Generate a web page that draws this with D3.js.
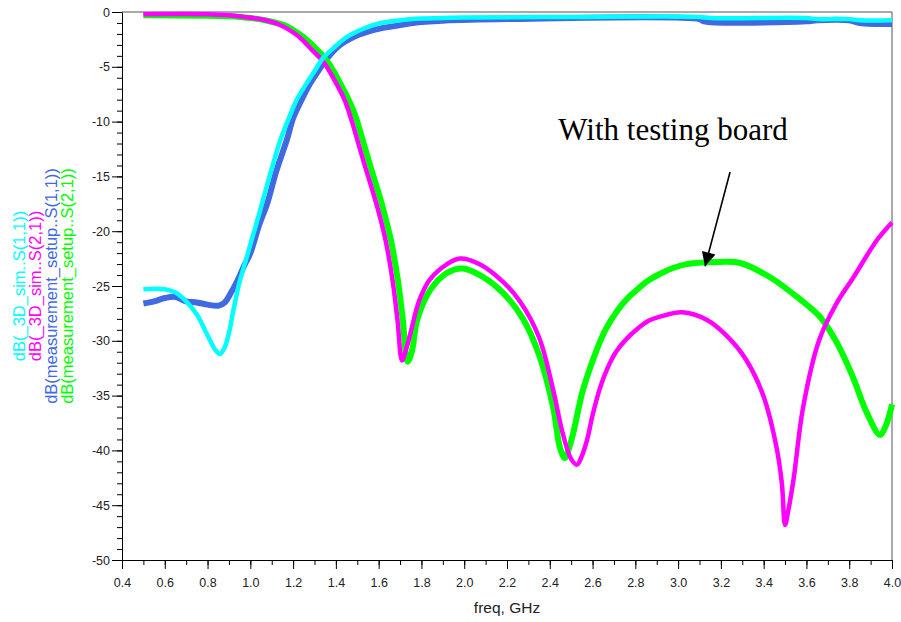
<!DOCTYPE html>
<html>
<head>
<meta charset="utf-8">
<script src="https://cdn.jsdelivr.net/npm/d3@7"></script>
<style>
body { margin: 0; background: #fff; }
</style>
</head>
<body>
<div id="chart"></div>
<script>
var w = 901;
var h = 622;
var sans = "Arial, 'Liberation Sans', sans-serif";

// series (freq in GHz, level in dB)
var simS11Freq = [0.5, 0.6, 0.65, 0.70, 0.75, 0.80, 0.835, 0.858, 0.88, 0.90, 0.92, 0.95, 0.98, 1.00, 1.03, 1.06, 1.10, 1.14, 1.18, 1.22, 1.26, 1.30, 1.34, 1.40, 1.45, 1.52, 1.60, 1.70, 1.80, 2.0, 2.5, 3.1, 3.15, 3.6, 3.65, 3.8, 3.85, 4.0];
var simS11dB   = [-25.3, -25.3, -25.6, -26.4, -27.6, -29.5, -30.8, -31.2, -30.6, -29.3, -27.3, -24.6, -22.6, -21.2, -19.2, -17.1, -14.3, -11.7, -9.7, -7.9, -6.6, -5.4, -4.2, -3.1, -2.3, -1.6, -1.05, -0.75, -0.6, -0.5, -0.45, -0.45, -0.55, -0.55, -0.65, -0.65, -0.75, -0.75];

var simS21Freq = [0.5, 0.8, 0.9, 0.97, 1.03, 1.08, 1.13, 1.17, 1.23, 1.29, 1.34, 1.39, 1.44, 1.475, 1.505, 1.535, 1.565, 1.595, 1.632, 1.665, 1.688, 1.709, 1.725, 1.75, 1.79, 1.84, 1.92, 1.98, 2.07, 2.18, 2.26, 2.35, 2.415, 2.46, 2.50, 2.527, 2.55, 2.575, 2.60, 2.635, 2.67, 2.71, 2.76, 2.81, 2.86, 2.915, 3.02, 3.135, 3.23, 3.32, 3.40, 3.46, 3.485, 3.50, 3.515, 3.54, 3.585, 3.66, 3.74, 3.82, 3.93, 4.0];
var simS21dB   = [-0.2, -0.2, -0.3, -0.45, -0.6, -0.8, -1.1, -1.5, -2.3, -3.5, -4.5, -6.1, -8.0, -10.0, -12.0, -14.0, -15.9, -17.9, -20.8, -24.5, -28.1, -31.8, -31.0, -29.2, -26.3, -24.4, -23.0, -22.5, -23.0, -24.6, -26.4, -29.7, -34.4, -38.4, -40.8, -41.3, -40.5, -39.0, -36.8, -34.3, -32.5, -31.0, -29.8, -28.9, -28.2, -27.8, -27.4, -28.1, -29.6, -31.8, -35.1, -39.7, -43.0, -46.8, -45.5, -42.6, -36.0, -29.9, -26.6, -24.2, -20.8, -19.2];

var measS11Freq = [0.5, 0.55, 0.6, 0.65, 0.70, 0.75, 0.80, 0.85, 0.88, 0.91, 0.94, 0.97, 1.00, 1.04, 1.08, 1.12, 1.17, 1.20, 1.24, 1.28, 1.31, 1.36, 1.42, 1.48, 1.55, 1.61, 1.70, 1.76, 1.90, 2.2, 3.1, 3.12, 3.6, 3.65, 3.8, 3.85, 4.0];
var measS11dB   = [-26.6, -26.4, -26.1, -26.0, -26.4, -26.5, -26.7, -26.8, -26.5, -25.6, -24.5, -23.2, -22.0, -19.5, -17.4, -14.6, -11.7, -9.7, -8.0, -6.5, -5.6, -4.2, -3.0, -2.3, -1.8, -1.5, -1.2, -1.0, -0.8, -0.65, -0.65, -0.85, -0.85, -0.75, -0.75, -1.0, -1.1];

var measS21Freq = [0.5, 0.8, 0.95, 1.00, 1.08, 1.17, 1.22, 1.265, 1.31, 1.36, 1.42, 1.48, 1.50, 1.53, 1.56, 1.59, 1.62, 1.657, 1.69, 1.713, 1.735, 1.755, 1.78, 1.84, 1.92, 1.994, 2.09, 2.18, 2.275, 2.35, 2.415, 2.447, 2.47, 2.49, 2.51, 2.555, 2.62, 2.66, 2.714, 2.76, 2.81, 2.86, 2.915, 2.97, 3.04, 3.195, 3.29, 3.43, 3.556, 3.663, 3.743, 3.817, 3.883, 3.944, 3.97, 3.99, 4.0];
var measS21dB   = [-0.3, -0.35, -0.45, -0.55, -0.8, -1.3, -1.9, -2.55, -3.4, -4.5, -6.5, -8.9, -10.0, -12.0, -14.0, -15.9, -17.9, -20.8, -24.5, -28.1, -31.9, -31.0, -28.1, -25.4, -23.8, -23.4, -24.2, -25.6, -28.0, -31.3, -36.0, -39.7, -40.7, -39.8, -38.4, -34.5, -30.8, -29.0, -27.3, -26.2, -25.3, -24.5, -23.9, -23.4, -23.0, -22.8, -22.9, -24.2, -26.0, -27.8, -30.2, -33.3, -36.6, -38.6, -37.8, -36.6, -35.8];

var seriesNames = ["dB(_3D_sim..S(1,1))", "dB(_3D_sim..S(2,1))", "dB(measurement_setup..S(1,1))", "dB(measurement_setup..S(2,1))"];

var xTicks = d3.range(0.4, 4.0001, 0.2);
var xMinorTicks = d3.range(0.4, 4.0001, 0.1);
var yTicks = d3.range(-50, 0.5, 5);
var yMinorTicks = d3.range(-50, 0.5, 1);

var noteText = "With testing board";
var notePos = [2.44, -11.7];
var arrowFrom = [3.243, -14.6];
var arrowTo = [3.126, -23.2];

var svg = d3.select("#chart")
            .append("svg")
            .attr("width", w)
            .attr("height", h);

var x = d3.scaleLinear().domain([0.4, 4.0]).range([122, 892]);
var y = d3.scaleLinear().domain([-50, 0]).range([560, 12]);

// frame (top and right)
svg.append("path")
    .attr("d", "M" + x(0.4) + "," + y(0) + "H" + x(4.0) + "V" + y(-50))
    .attr("fill", "none")
    .attr("stroke", "#555")
    .attr("stroke-width", 1);

// minor ticks
svg.append("g")
    .attr("transform", "translate(0," + y(-50) + ")")
    .call(d3.axisBottom(x).tickValues(xMinorTicks).tickSize(5).tickFormat(""))
    .call(function(g) { g.select(".domain").remove(); });

svg.append("g")
    .attr("transform", "translate(" + x(0.4) + ",0)")
    .call(d3.axisLeft(y).tickValues(yMinorTicks).tickSize(5).tickFormat(""))
    .call(function(g) { g.select(".domain").remove(); });

// major ticks + labels
svg.append("g")
    .attr("transform", "translate(0," + y(-50) + ")")
    .call(d3.axisBottom(x).tickValues(xTicks).tickSize(9).tickPadding(9).tickSizeOuter(0)
        .tickFormat(function(d) { return d.toFixed(1); }));

svg.append("g")
    .attr("transform", "translate(" + x(0.4) + ",0)")
    .call(d3.axisLeft(y).tickValues(yTicks).tickSize(10).tickPadding(2).tickSizeOuter(0)
        .tickFormat(function(d) { return String(d); }));

svg.selectAll(".tick text")
    .attr("font-size", 12.5)
    .attr("font-family", sans)
    .attr("fill", "#222");

svg.append("text")
    .attr("x", (x(0.4) + x(4.0)) / 2)
    .attr("y", 613)
    .attr("text-anchor", "middle")
    .attr("font-family", sans)
    .attr("font-size", 15.5)
    .attr("fill", "#222")
    .text("freq, GHz");

// curves
var line = d3.line()
    .x(function(d) { return x(d[0]); })
    .y(function(d) { return y(d[1]); })
    .curve(d3.curveCatmullRom.alpha(0.5));

var curves = [
    {f: measS11Freq, v: measS11dB, color: "#4169e1", width: 6},
    {f: measS21Freq, v: measS21dB, color: "#00ff00", width: 6},
    {f: simS21Freq, v: simS21dB, color: "#ff00ff", width: 4.5},
    {f: simS11Freq, v: simS11dB, color: "#00ffff", width: 4.5}
];

svg.selectAll("path.curve")
    .data(curves)
    .enter()
    .append("path")
    .attr("class", "curve")
    .attr("fill", "none")
    .attr("stroke", function(d) { return d.color; })
    .attr("stroke-width", function(d) { return d.width; })
    .attr("stroke-linejoin", "round")
    .attr("d", function(d) {
        return line(d.f.map(function(f, i) { return [f, d.v[i]]; }));
    });

// rotated legend on the left
var legendColors = ["#00ffff", "#ff00ff", "#4169e1", "#00ff00"];
var legendX = [25, 41, 57, 73];

svg.selectAll("text.legend")
    .data(seriesNames)
    .enter()
    .append("text")
    .attr("class", "legend")
    .attr("transform", function(d, i) {
        return "translate(" + legendX[i] + "," + (y(0) + y(-50)) / 2 + ") rotate(-90)";
    })
    .attr("text-anchor", "middle")
    .attr("font-family", sans)
    .attr("font-size", 16.5)
    .attr("fill", function(d, i) { return legendColors[i]; })
    .text(function(d) { return d; });

// annotation
svg.append("defs")
    .append("marker")
    .attr("id", "head")
    .attr("markerUnits", "userSpaceOnUse")
    .attr("viewBox", "0 0 10 10")
    .attr("refX", 10)
    .attr("refY", 5)
    .attr("markerWidth", 24)
    .attr("markerHeight", 14)
    .attr("orient", "auto")
    .append("path")
    .attr("d", "M0,0L10,5L0,10Z")
    .attr("fill", "#000");

svg.append("line")
    .attr("x1", x(arrowFrom[0]))
    .attr("y1", y(arrowFrom[1]))
    .attr("x2", x(arrowTo[0]))
    .attr("y2", y(arrowTo[1]))
    .attr("stroke", "#000")
    .attr("stroke-width", 1.6)
    .attr("marker-end", "url(#head)");

svg.append("text")
    .attr("x", x(notePos[0]))
    .attr("y", y(notePos[1]))
    .attr("font-family", "'Liberation Serif', 'Times New Roman', serif")
    .attr("font-size", 31)
    .attr("fill", "#000")
    .text(noteText);
</script>
</body>
</html>
